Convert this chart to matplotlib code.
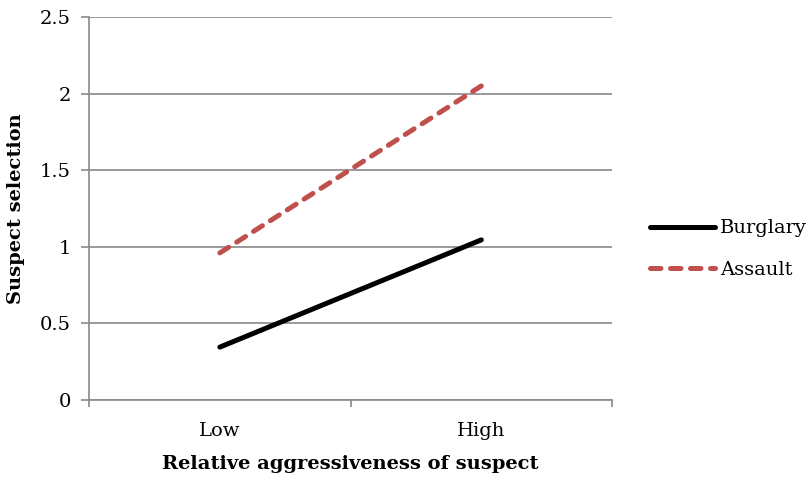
import numpy as np
import matplotlib
matplotlib.use("Agg")
import matplotlib.pyplot as plt

categories = ["Low", "High"]
burglary = [0.345, 1.045]
assault = [0.96, 2.05]
yticks = [0, 0.5, 1, 1.5, 2, 2.5]
ytick_labels = ["0", "0.5", "1", "1.5", "2", "2.5"]

plt.rcParams['font.family'] = ['DejaVu Serif']
grid_col = "#898989"
fs = 14

fig = plt.figure(figsize=(8.1, 4.79), dpi=100)
ax = fig.add_axes([0.110, 0.165, 0.6456, 0.7995])

x = np.arange(len(categories)) + 0.5
ax.plot(x, burglary, color="black", lw=3.6, solid_capstyle="round", label="Burglary")
ax.plot(x, assault, color="#C0504D", lw=3.6, dash_capstyle="round",
        dashes=(2.1, 1.9), label="Assault")

ax.set_xlim(0, 2)
ax.set_ylim(0, 2.5)
ax.set_yticks(yticks)
ax.set_yticklabels(ytick_labels)
ax.yaxis.grid(True, color=grid_col, lw=1.2)
ax.set_axisbelow(True)

# category boundaries get the ticks, labels sit between them
ax.set_xticks([0, 1, 2])
ax.set_xticklabels([])
ax.set_xticks(x, minor=True)
ax.set_xticklabels(categories, minor=True)
ax.tick_params(axis="x", which="minor", length=0, pad=16, labelsize=fs)
ax.tick_params(axis="x", which="major", length=5, color=grid_col, width=1.2, direction="out")
ax.tick_params(axis="y", length=6, color=grid_col, width=1.2, pad=7, labelsize=fs)

for s in ["top", "right"]:
    ax.spines[s].set_visible(False)
for s in ["left", "bottom"]:
    ax.spines[s].set_color(grid_col)
    ax.spines[s].set_linewidth(1.2)

ax.set_xlabel("Relative aggressiveness of suspect", fontsize=fs, fontweight="bold", labelpad=11)
ax.set_ylabel("Suspect selection", fontsize=fs, fontweight="bold", labelpad=11)

leg = ax.legend(loc="center left", bbox_to_anchor=(1.073, 0.394), frameon=False,
                fontsize=fs, handlelength=3.35, handletextpad=0.25, labelspacing=1.2,
                borderaxespad=0, borderpad=0)

fig.savefig("out.png", dpi=100)
